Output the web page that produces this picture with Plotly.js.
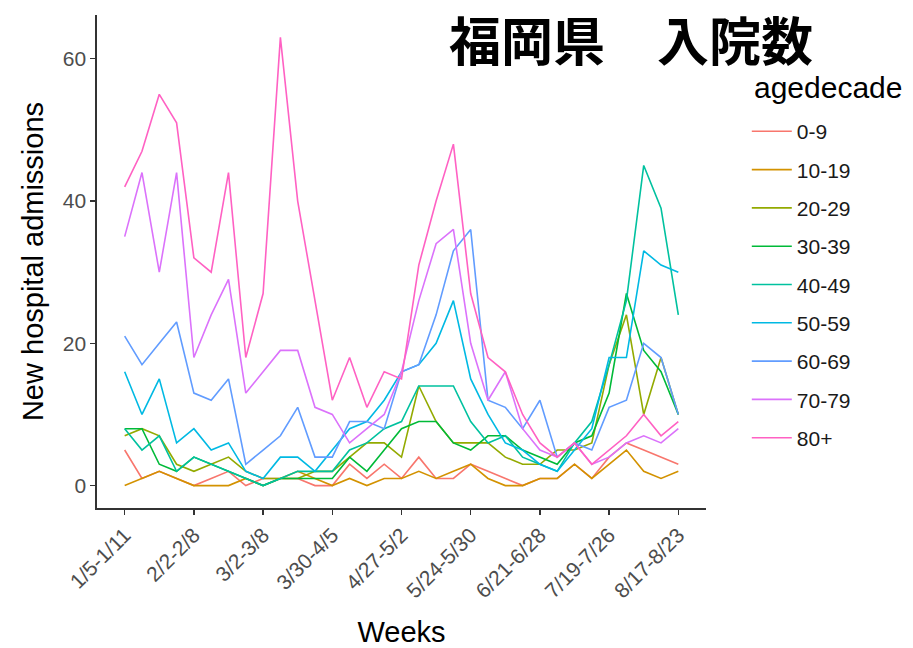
<!DOCTYPE html>
<html>
<head>
<meta charset="utf-8">
<script src="https://cdn.plot.ly/plotly-3.0.1.min.js"></script>
<style>
  html, body { margin: 0; padding: 0; background: #ffffff; }
  #chart { width: 913px; height: 648px; }
</style>
</head>
<body>
<div id="chart"></div>
<script>
// Weekly hospital admissions in Fukuoka by age decade
const weeks = [
  "1/5-1/11", "1/12-1/18", "1/19-1/25", "1/26-2/1",
  "2/2-2/8", "2/9-2/15", "2/16-2/22", "2/23-3/1",
  "3/2-3/8", "3/9-3/15", "3/16-3/22", "3/23-3/29",
  "3/30-4/5", "4/6-4/12", "4/13-4/19", "4/20-4/26",
  "4/27-5/2", "5/3-5/9", "5/10-5/16", "5/17-5/23",
  "5/24-5/30", "5/31-6/6", "6/7-6/13", "6/14-6/20",
  "6/21-6/28", "6/29-7/5", "7/6-7/12", "7/13-7/18",
  "7/19-7/26", "7/27-8/2", "8/3-8/9", "8/10-8/16",
  "8/17-8/23"
];
const tickWeeks = ["1/5-1/11", "2/2-2/8", "3/2-3/8", "3/30-4/5", "4/27-5/2",
                   "5/24-5/30", "6/21-6/28", "7/19-7/26", "8/17-8/23"];
const yTicks = [0, 20, 40, 60];

const ageGroups = ["0-9", "10-19", "20-29", "30-39", "40-49", "50-59", "60-69", "70-79", "80+"];

const age0to9   = [5,1,2,1,0,1,2,0,1,1,1,0,0,3,1,3,1,4,1,1,3,2,1,0,1,1,3,1,4,6,5,4,3];
const age10to19 = [0,1,2,1,0,0,0,1,0,1,2,1,0,1,0,1,1,2,1,2,3,1,0,0,1,1,3,1,3,5,2,1,2];
const age20to29 = [7,8,7,3,2,3,4,2,1,1,1,2,2,4,6,6,4,14,9,6,6,6,4,3,3,5,5,6,17,24,10,18,10];
const age30to39 = [8,8,3,2,4,3,2,1,0,1,1,1,1,4,2,5,8,9,9,6,5,7,7,5,4,3,6,7,13,27,19,16,10];
const age40to49 = [8,5,7,2,4,3,2,1,0,1,2,2,2,5,6,8,9,14,14,14,9,6,7,4,3,2,6,9,17,26,45,39,24];
const age50to59 = [16,10,15,6,8,5,6,2,1,4,4,2,5,8,9,12,16,17,20,26,15,10,6,5,3,2,5,8,18,18,33,31,30];
const age60to69 = [21,17,20,23,13,12,15,3,5,7,11,4,4,9,9,8,16,17,24,33,36,12,11,8,12,4,6,5,11,12,20,18,10];
const age70to79 = [35,44,30,44,18,24,29,13,16,19,19,11,10,6,8,10,16,26,34,36,20,12,16,8,5,4,6,3,4,6,7,6,8];
const age80plus = [42,47,55,51,32,30,44,18,27,63,40,26,12,18,11,16,15,31,40,48,27,18,16,10,6,4,6,3,5,7,10,7,9];

const seriesValues = [age0to9, age10to19, age20to29, age30to39, age40to49,
                      age50to59, age60to69, age70to79, age80plus];

// ggplot2 default hue palette for nine groups
const palette = ["#F8766D", "#D39200", "#93AA00", "#00BA38", "#00C19F",
                 "#00B9E3", "#619CFF", "#DB72FB", "#FF61C3"];

const textFont = "Liberation Sans, Arial, sans-serif";

const traces = ageGroups.map((name, i) => ({
  type: "scatter",
  mode: "lines",
  name: name,
  legendgroup: name,
  x: weeks,
  y: seriesValues[i],
  line: { color: palette[i], width: 1.6 },
  hoverinfo: "x+y+name"
}));

const layout = {
  width: 913,
  height: 648,
  autosize: false,
  paper_bgcolor: "#ffffff",
  plot_bgcolor: "#ffffff",
  margin: { l: 97, r: 207, t: 15, b: 140 },
  font: { family: textFont, color: "#000000" },
  title: {
    text: "福岡県　入院数",
    font: { family: "Noto Sans CJK JP, sans-serif", size: 52, weight: "bold", color: "#000000" },
    x: 0.691, xanchor: "center", xref: "container",
    y: 0.934, yanchor: "middle", yref: "container"
  },
  xaxis: {
    type: "category",
    categoryorder: "array",
    categoryarray: weeks,
    range: [-1.6, 33.6],
    tickmode: "array",
    tickvals: tickWeeks,
    ticktext: tickWeeks,
    tickangle: -45,
    tickfont: { family: textFont, size: 21, color: "#4D4D4D" },
    ticks: "outside", ticklen: 5, tickwidth: 1.4, tickcolor: "#333333",
    showline: true, linecolor: "#333333", linewidth: 1.6,
    showgrid: false, zeroline: false,
    title: { text: "Weeks", font: { family: textFont, size: 29, color: "#000000" }, standoff: 20 }
  },
  yaxis: {
    range: [-3.15, 66.15],
    tickmode: "array",
    tickvals: yTicks,
    tickfont: { family: textFont, size: 21, color: "#4D4D4D" },
    ticks: "outside", ticklen: 5, tickwidth: 1.4, tickcolor: "#333333",
    showline: true, linecolor: "#333333", linewidth: 1.6,
    showgrid: false, zeroline: false,
    title: { text: "New hospital admissions", font: { family: textFont, size: 29, color: "#000000" }, standoff: 10 }
  },
  legend: {
    x: 1.067, xanchor: "left",
    y: 0.805, yanchor: "top",
    traceorder: "grouped",
    tracegroupgap: 8,
    itemwidth: 40,
    font: { family: textFont, size: 21, color: "#1a1a1a" },
    bgcolor: "rgba(0,0,0,0)"
  },
  // legend heading, placed on its own above the entries
  annotations: [{
    text: "agedecade",
    xref: "paper", yref: "paper",
    x: 1.0755, xanchor: "left",
    y: 1 - (87 - 15) / 493, yanchor: "middle",
    showarrow: false,
    font: { family: textFont, size: 30, color: "#000000" }
  }],
  showlegend: true
};

Plotly.newPlot("chart", traces, layout, { displayModeBar: false, staticPlot: true });
</script>
</body>
</html>
